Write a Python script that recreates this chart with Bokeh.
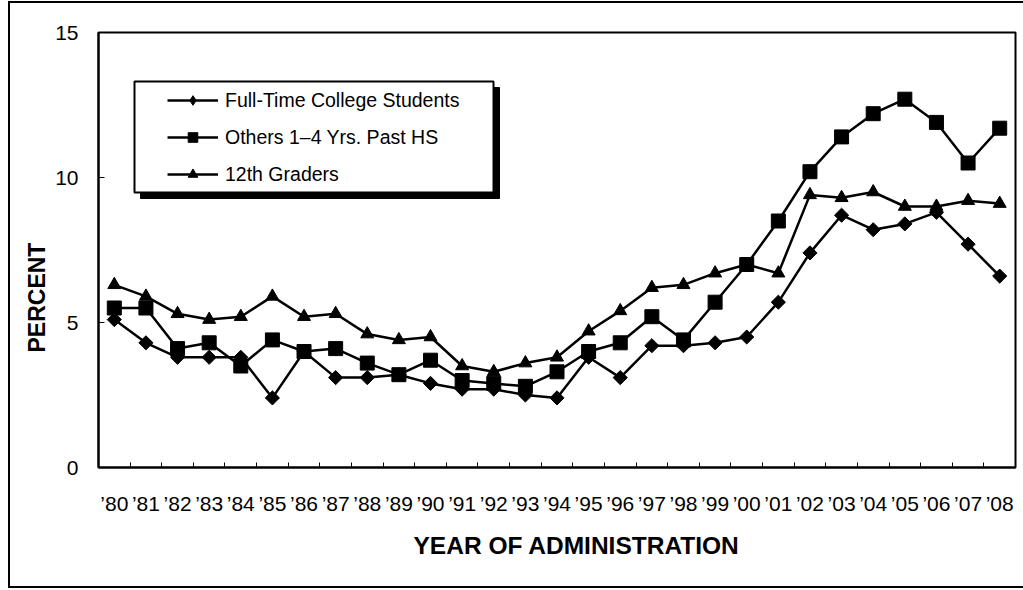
import math
from bokeh.plotting import figure
from bokeh.models import (Range1d, FixedTicker, Legend, LegendItem, BoxAnnotation,
                          Title, ColumnDataSource)
from bokeh.embed import file_html
from bokeh.resources import INLINE

# ---- data ----
years = ["\u201980", "\u201981", "\u201982", "\u201983", "\u201984", "\u201985", "\u201986",
         "\u201987", "\u201988", "\u201989", "\u201990", "\u201991", "\u201992", "\u201993",
         "\u201994", "\u201995", "\u201996", "\u201997", "\u201998", "\u201999", "\u201900",
         "\u201901", "\u201902", "\u201903", "\u201904", "\u201905", "\u201906", "\u201907",
         "\u201908"]
college = [5.1, 4.3, 3.8, 3.8, 3.8, 2.4, 4.0, 3.1, 3.1, 3.2, 2.9, 2.7, 2.7, 2.5, 2.4,
           3.8, 3.1, 4.2, 4.2, 4.3, 4.5, 5.7, 7.4, 8.7, 8.2, 8.4, 8.8, 7.7, 6.6]
others = [5.5, 5.5, 4.1, 4.3, 3.5, 4.4, 4.0, 4.1, 3.6, 3.2, 3.7, 3.0, 2.9, 2.8, 3.3,
          4.0, 4.3, 5.2, 4.4, 5.7, 7.0, 8.5, 10.2, 11.4, 12.2, 12.7, 11.9, 10.5, 11.7]
grade12 = [6.3, 5.9, 5.3, 5.1, 5.2, 5.9, 5.2, 5.3, 4.6, 4.4, 4.5, 3.5, 3.3, 3.6, 3.8,
           4.7, 5.4, 6.2, 6.3, 6.7, 7.0, 6.7, 9.4, 9.3, 9.5, 9.0, 9.0, 9.2, 9.1]
series_names = ["Full-Time College Students", "Others 1\u20134 Yrs. Past HS", "12th Graders"]
y_ticks = [0, 5, 10, 15]

FONT = "Liberation Sans"
idx = list(range(len(years)))

p = figure(width=1023, height=590, output_backend="svg", toolbar_location=None,
           x_range=Range1d(-0.5, len(years) - 0.5), y_range=Range1d(0, 15),
           min_border_left=98, min_border_right=8, min_border_top=32, min_border_bottom=123)
p.background_fill_color = "white"
p.border_fill_alpha = 0
p.xgrid.visible = False
p.ygrid.visible = False
p.outline_line_color = "black"
p.outline_line_width = 2
# outer chart frame (left, top, bottom edges)
p.styles = {"box-shadow": ("inset 0 1px 0 0 white, inset 0 -2px 0 0 white, inset 8px 0 0 0 white, "
                           "inset 0 3px 0 0 black, inset 0 -4px 0 0 black, inset 10px 0 0 0 black"),
            "background-color": "white"}

# x axis
xa = p.xaxis[0]
xa.ticker = FixedTicker(ticks=idx, minor_ticks=[i - 0.5 for i in range(len(years) + 1)])
xa.major_label_overrides = {i: years[i] for i in idx}
xa.major_tick_in = 0
xa.major_tick_out = 0
xa.minor_tick_in = 5
xa.minor_tick_out = 0
xa.minor_tick_line_color = "black"
xa.minor_tick_line_width = 1
xa.axis_line_color = "black"
xa.axis_line_width = 2
xa.major_label_text_font = FONT
xa.major_label_text_font_size = "21px"
xa.major_label_text_color = "black"
xa.major_label_standoff = 24

# y axis
ya = p.yaxis[0]
ya.ticker = FixedTicker(ticks=y_ticks)
ya.major_tick_in = 6
ya.major_tick_out = 0
ya.minor_tick_line_color = None
ya.major_tick_line_color = "black"
ya.major_tick_line_width = 1
ya.axis_line_color = "black"
ya.axis_line_width = 2
ya.major_label_text_font = FONT
ya.major_label_text_font_size = "21px"
ya.major_label_text_color = "black"
ya.major_label_standoff = 20

# legend shadow and box
p.add_layout(BoxAnnotation(left=42, right=401, top=380, bottom=269,
                           left_units="screen", right_units="screen",
                           top_units="screen", bottom_units="screen",
                           fill_color="black", fill_alpha=1,
                           line_color="black", line_alpha=1, line_width=1))
p.add_layout(BoxAnnotation(left=36, right=395, top=386, bottom=275,
                           left_units="screen", right_units="screen",
                           top_units="screen", bottom_units="screen",
                           fill_color="white", fill_alpha=1,
                           line_color="black", line_alpha=1, line_width=2))

# series
items = []
specs = [(college, "square", 10, math.pi / 4, "diamond"),
         (others, "square", 14, 0.0, None),
         (grade12, "triangle", 13, 0.0, None)]
for name, (vals, marker, size, ang, lmarker) in zip(series_names, specs):
    src = ColumnDataSource(dict(x=idx, y=vals))
    lr = p.line("x", "y", source=src, line_color="black", line_width=2.5)
    sr = p.scatter("x", "y", source=src, marker=marker, size=size, angle=ang,
                   fill_color="black", line_color="black", line_width=1)
    if lmarker is not None:
        # legend key only: the legend draws markers unrotated, so use a diamond key
        kr = p.scatter(x=[float("nan")], y=[float("nan")], marker=lmarker, size=size,
                       fill_color="black", line_color="black", line_width=1)
    else:
        kr = sr
    items.append(LegendItem(label=name, renderers=[lr, kr]))

legend = Legend(items=items, location=(63, 275), padding=6, margin=0,
                glyph_width=51, glyph_height=24, label_height=24, label_standoff=7,
                spacing=13, border_line_alpha=0, background_fill_alpha=0,
                label_text_font=FONT, label_text_font_size="19.5px",
                label_text_color="black")
p.add_layout(legend)

# axis titles
p.add_layout(Title(text="YEAR OF ADMINISTRATION", align="left", offset=315, standoff=24,
                   text_font=FONT, text_font_size="24.5px", text_font_style="bold",
                   text_color="black"), "below")
p.add_layout(Title(text="PERCENT", align="left", offset=115, standoff=6,
                   text_font=FONT, text_font_size="23px", text_font_style="bold",
                   text_color="black"), "left")

open("out.html", "w").write(file_html(p, INLINE))
